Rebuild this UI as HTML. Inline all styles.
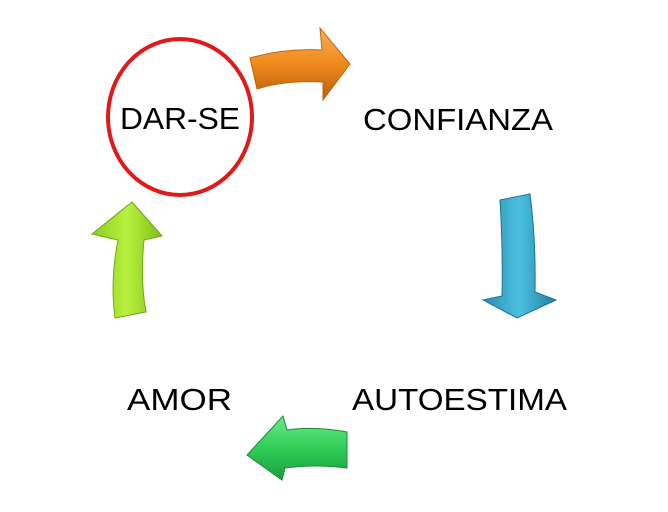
<!DOCTYPE html>
<html><head><meta charset="utf-8"><style>
html,body{margin:0;padding:0;background:#fff;}
svg{display:block}
</style></head><body>
<svg width="668" height="512" viewBox="0 0 668 512" xmlns="http://www.w3.org/2000/svg">
<defs>
<linearGradient id="go" x1="0" y1="0" x2="0" y2="1"><stop offset="0" stop-color="#f7b15a"/><stop offset="0.5" stop-color="#f08a1c"/><stop offset="1" stop-color="#b85e0c"/></linearGradient>
<linearGradient id="gb" x1="0" y1="0" x2="1" y2="0"><stop offset="0" stop-color="#2a8db0"/><stop offset="0.5" stop-color="#4cc0e0"/><stop offset="1" stop-color="#1f7ea3"/></linearGradient>
<linearGradient id="gg" x1="0" y1="0" x2="0" y2="1"><stop offset="0" stop-color="#6fe88a"/><stop offset="0.5" stop-color="#2fcf57"/><stop offset="1" stop-color="#1c9d3b"/></linearGradient>
<linearGradient id="gl" x1="0" y1="0" x2="1" y2="0"><stop offset="0" stop-color="#8ccf1c"/><stop offset="0.5" stop-color="#b8f040"/><stop offset="1" stop-color="#7fbf16"/></linearGradient>
</defs>
<ellipse cx="180" cy="117" rx="72" ry="78" fill="none" stroke="#e01a1a" stroke-width="4"/>
<g font-family="Liberation Sans, sans-serif" font-size="31" fill="#000">
<text x="120" y="129" textLength="120" lengthAdjust="spacingAndGlyphs">DAR-SE</text>
<text x="363" y="130" textLength="190" lengthAdjust="spacingAndGlyphs">CONFIANZA</text>
<text x="352" y="410" textLength="215" lengthAdjust="spacingAndGlyphs">AUTOESTIMA</text>
<text x="127" y="410" textLength="105" lengthAdjust="spacingAndGlyphs">AMOR</text>
</g>
<!-- orange -->
<path d="M250,58 Q285,48 322,50 L320,28 L350,64 L323,100 L323,82 Q285,80 257,89 Z" fill="url(#go)" stroke="#c0660e" stroke-width="1"/>
<!-- blue -->
<path d="M500,200 L530,194 Q536,240 535,292 L556,300 L517,318 L483,300 L502,296 Q503,250 500,200 Z" fill="url(#gb)" stroke="#1b7394" stroke-width="1"/>
<!-- green left -->
<path d="M347,432 L347,468 Q315,464 285,468 L282,480 L247,455 L283,416 L287,430 Q315,426 347,432 Z" fill="url(#gg)" stroke="#1b8c36" stroke-width="1"/>
<!-- lime up -->
<path d="M115,318 Q110,280 118,240 L92,234 L132,202 L162,236 L144,240 Q140,280 146,312 Z" fill="url(#gl)" stroke="#6fa812" stroke-width="1"/>
</svg>
</body></html>
